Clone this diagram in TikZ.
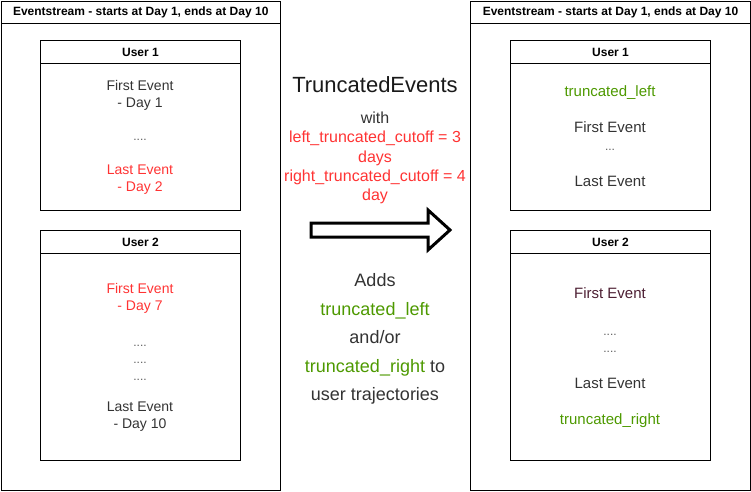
\documentclass[tikz,border=0pt]{standalone}
\usepackage{fontspec}
\setmainfont{Liberation Sans}
\usepackage{tikz}
\usetikzlibrary{positioning}

\definecolor{evred}{HTML}{FF3333}
\definecolor{evgreen}{HTML}{4D9900}
\definecolor{evgray}{HTML}{333333}
\definecolor{evmaroon}{HTML}{4D1F33}

\begin{document}
\begin{tikzpicture}[x=1pt,y=-1pt,line width=1pt,
      box/.style={draw,anchor=north west,inner sep=0pt},
      head/.style={box,font=\fontsize{12}{14}\selectfont\bfseries},
      lev/.style={font=\fontsize{14}{17}\selectfont,text=evgray,align=center,inner sep=0pt},
      rev/.style={font=\fontsize{15}{18}\selectfont,text=evgray,align=center,inner sep=0pt},
      dots/.style={font=\fontsize{12}{17}\selectfont,text=evgray!80,align=center,inner sep=0pt},
    ]
        \useasboundingbox (0,0) rectangle (751,491);

        % before
        \node[box,minimum width=279.5pt,minimum height=489.5pt] (lstream) at (0.5,0.5) {};
        \node[head,minimum width=279.5pt,minimum height=22.5pt] (lhead) at (0.5,0.5) {Eventstream - starts at Day 1, ends at Day 10};
        \node[box,minimum width=200pt,minimum height=170pt] (lu1) at (40,40) {};
        \node[head,minimum width=200pt,minimum height=23pt] (lu1h) at (40,40) {User 1};
        \node[lev] (lu1f) at (140,95) {First Event\\- Day 1};
        \node[dots] (lu1d) at (140,140) {....};
        \node[lev,text=evred] (lu1l) at (140,180) {Last Event\\- Day 2};
        \node[box,minimum width=200pt,minimum height=230pt] (lu2) at (40,230) {};
        \node[head,minimum width=200pt,minimum height=23pt] (lu2h) at (40,230) {User 2};
        \node[lev,text=evred] (lu2f) at (140,298) {First Event\\- Day 7};
        \node[dots] (lu2d) at (140,363) {....\\....\\....};
        \node[lev] (lu2l) at (140,417) {Last Event\\- Day 10};

        % operation
        \node[font=\fontsize{22}{26}\selectfont,text=black!90] (te) at (375,85) {TruncatedEvents};
        \node[font=\fontsize{16}{19.2}\selectfont,text=evgray,align=center,inner sep=0pt] (cfg) at (375,158)
            {with\\\textcolor{evred}{left\_truncated\_cutoff = 3}\\\textcolor{evred}{days}\\\textcolor{evred}{right\_truncated\_cutoff = 4}\\\textcolor{evred}{day}};
        \draw[line width=3pt,fill=white] (311,223) -- (428,223) -- (428,210) -- (450,230)
            -- (428,250) -- (428,237) -- (311,237) -- cycle;
        \node[font=\fontsize{18}{28.5}\selectfont,text=evgray,align=center,inner sep=0pt] (adds) at (375,339)
            {Adds\\\textcolor{evgreen}{truncated\_left}\\and/or\\\textcolor{evgreen}{truncated\_right} to\\user trajectories};

        % after
        \node[box,minimum width=280pt,minimum height=489.5pt] (rstream) at (470,0.5) {};
        \node[head,minimum width=280pt,minimum height=22.5pt] (rhead) at (470,0.5) {Eventstream - starts at Day 1, ends at Day 10};
        \node[box,minimum width=200pt,minimum height=170pt] (ru1) at (510,40) {};
        \node[head,minimum width=200pt,minimum height=23pt] (ru1h) at (510,40) {User 1};
        \node[rev,text=evgreen] (ru1t) at (610,93) {truncated\_left};
        \node[rev] (ru1f) at (610,127) {First Event};
        \node[dots] (ru1d) at (610,150) {...};
        \node[rev] (ru1l) at (610,181) {Last Event};
        \node[box,minimum width=200pt,minimum height=230pt] (ru2) at (510,230) {};
        \node[head,minimum width=200pt,minimum height=23pt] (ru2h) at (510,230) {User 2};
        \node[rev,text=evmaroon] (ru2f) at (610,293) {First Event};
        \node[dots] (ru2d) at (610,343) {....\\....};
        \node[rev] (ru2l) at (610,383) {Last Event};
        \node[rev,text=evgreen] (ru2t) at (610,421) {truncated\_right};
    \end{tikzpicture}
\end{document}
